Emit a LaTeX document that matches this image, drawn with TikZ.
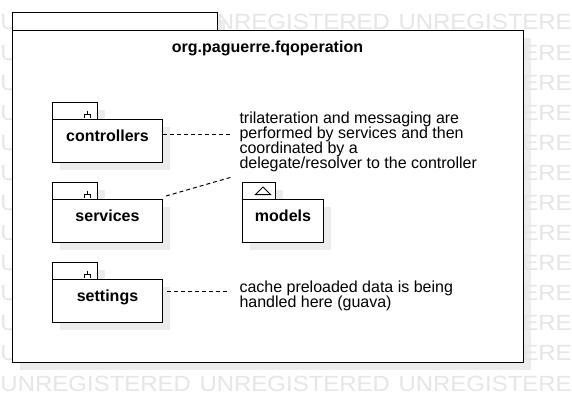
\documentclass[tikz,border=0pt]{standalone}
\usepackage{fontspec}
\setmainfont{Liberation Sans}
\usetikzlibrary{calc}
\definecolor{shadowc}{RGB}{236,236,236}
\definecolor{wmc}{RGB}{230,230,230}
\newcommand\umlpkg[7]{% #1 name, #2 x, #3 tab top, #4 body width, #5 tab width, #6 label
  \fill[shadowc] (#2+8,#3+8) rectangle ++(#5,17);
  \fill[shadowc] (#2+8,#3+25) rectangle ++(#4,43);
  \node[tabbox, minimum width=#5pt] (#1-tab) at (#2,#3) {};
  \node[pkgbody, minimum width=#4pt] (#1) at (#2,#3+17) {#6};
}
\newcommand\wmword[1]{\scalebox{1.09}[1]{#1}}
\begin{document}
\begin{tikzpicture}[x=1pt,y=-1pt,
  line width=1pt,
  wm/.style={anchor=base west, inner sep=0pt, text=wmc, font=\fontsize{22}{22}\selectfont},
  tabbox/.style={draw=black, fill=white, inner sep=0pt, anchor=north west, minimum height=17pt},
  pkgbody/.style={draw=black, fill=white, inner sep=0pt, anchor=north west, minimum height=43pt,
    font=\fontsize{16}{19}\selectfont\bfseries, text height=12pt, text depth=11pt},
  notetext/.style={anchor=north west, inner sep=0pt, align=left, font=\fontsize{16}{15}\selectfont},
  conn/.style={draw=black, line width=1pt, dash pattern=on 4pt off 3pt},
  icon/.style={draw=black, line width=1pt}
]
\fill[white] (0,0) rectangle (572,412);
\useasboundingbox (0,0) rectangle (572,412);
% outer shadow
\fill[shadowc] (20,20.5) rectangle (224.5,38);
\fill[shadowc] (20,38) rectangle (530.5,369.5);
% watermark (only the parts that show)
\node[wm] (wm-top-1) at (0,30) {\wmword{U}};
\node[wm] (wm-top-2) at (199,30) {\wmword{\hphantom{U}NREGISTERED}};
\node[wm] (wm-top-3) at (398,30) {\wmword{UNREGISTERE}};
\foreach \r in {1,...,11}{
  \node[wm] (wm-l-\r) at (0,30+\r*30.08) {\wmword{U}};
  \node[wm] (wm-r-\r) at (398,30+\r*30.08) {\wmword{\hphantom{UNREGIST}ERE}};
}
\node[wm] (wm-bot-1) at (0,391) {\wmword{UNREGISTERED}};
\node[wm] (wm-bot-2) at (199,391) {\wmword{UNREGISTERED}};
\node[wm] (wm-bot-3) at (398,391) {\wmword{UNREGISTERE}};
% outer package
\node[draw=black, fill=white, inner sep=0pt, anchor=north west, minimum width=204.5pt, minimum height=17.5pt] (outer-tab) at (12,12.5) {};
\node[draw=black, fill=white, inner sep=0pt, anchor=north west, minimum width=510.5pt, minimum height=331.5pt] (outer) at (12,30) {};
\node[anchor=base, inner sep=0pt, font=\fontsize{16}{19}\selectfont\bfseries] (title) at (267.5,52.5) {org.paguerre.fqoperation};
% inner packages
\umlpkg{ctrl}{52}{102}{110}{45}{controllers}{}
\umlpkg{svc}{52}{182}{110}{45}{services}{}
\umlpkg{set}{52}{262}{110}{45}{settings}{}
\umlpkg{mod}{242}{182}{81}{33}{models}{}
% fork icons
\foreach \t in {ctrl-tab,svc-tab,set-tab}{
  \draw[icon] ($(\t.north east)+(-10.5,8.5)$) -- ++(0,3.5);
  \draw[icon] ($(\t.north east)+(-13.5,15.5)$) |- ++(6,-3.5) -- ++(0,3.5);
}
% triangle icon
\draw[icon, line join=miter] ($(mod-tab.north west)+(13.3,12.7)$) -- ++(15.4,0) -- ++(-7.7,-7.7) -- cycle;
% notes
\node[notetext] (note1) at (239,111.8) {trilateration and messaging are\\performed by services and then\\coordinated by a\\delegate/resolver to the controller};
\node[notetext] (note2) at (239,280.5) {cache preloaded data is being\\handled here (guava)};
% connectors
\coordinate (n1a) at (231,134.5);
\coordinate (n1b) at (232,177);
\coordinate (n2a) at (228,291.5);
\draw[conn] (ctrl.east |- n1a) -- (n1a);
\draw[conn] ($(svc.north east)+(3,-3)$) -- (n1b);
\draw[conn] ($(set.east |- n2a)+(4,0)$) -- (n2a);
\end{tikzpicture}
\end{document}
